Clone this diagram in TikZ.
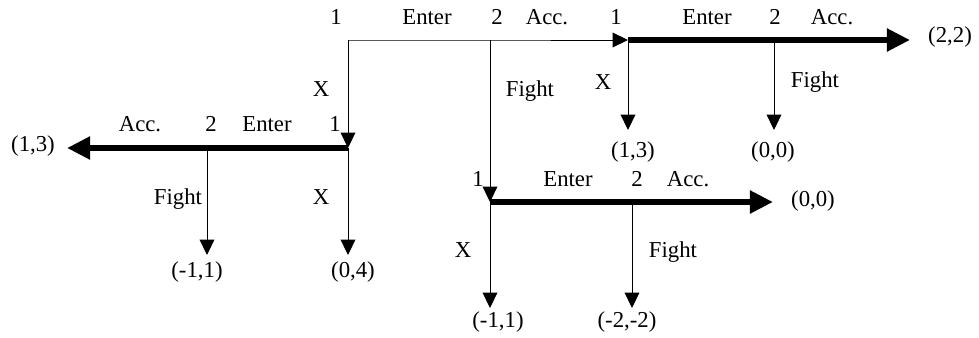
\documentclass[tikz,border=0pt]{standalone}
\usepackage{fontspec}
\setmainfont{Liberation Serif}
\usetikzlibrary{arrows.meta}

\begin{document}
\begin{tikzpicture}[x=0.025cm,y=-0.025cm,%[minimum width=40]
	lbl/.style={font=\fontsize{16.2}{19}\selectfont,inner sep=0pt,text height=1.5ex,text depth=.25ex},
	move/.style={line width=0.7pt,-{Triangle[length=11pt,width=10.5pt]}},
	eqpath/.style={line width=4.4pt,-{Triangle[length=16.5pt,width=15.6pt]}}]
	\useasboundingbox (0,0) rectangle (979,337);
	% decision points
	\coordinate (root) at (348,40);
	\coordinate (top2) at (490,40);
	\coordinate (R1) at (628,40);
	\coordinate (R2) at (774,40);
	\coordinate (L1) at (348,148);
	\coordinate (L2) at (207,148);
	\coordinate (D1) at (490,202);
	\coordinate (D2) at (632,202);
	% arrow ends
	\coordinate (Rend) at (910,40);
	\coordinate (Rx) at (628,130);
	\coordinate (Rf) at (774,130);
	\coordinate (Lend) at (67,148);
	\coordinate (Lf) at (207,255);
	\coordinate (Lx) at (348,255);
	\coordinate (Dend) at (773,202);
	\coordinate (Dx) at (490,308);
	\coordinate (Df) at (632,308);
	% moves
	\draw [move] (root) -- (top2) -- (R1);
	\draw [move] (root) -- (L1);
	\draw [move] (top2) -- (D1);
	\draw [eqpath] (R1) -- (R2) -- (Rend);
	\draw [move] (R1) -- (Rx);
	\draw [move] (R2) -- (Rf);
	\draw [eqpath] (L1) -- (L2) -- (Lend);
	\draw [move] (L2) -- (Lf);
	\draw [move] (L1) -- (Lx);
	\draw [eqpath] (D1) -- (D2) -- (Dend);
	\draw [move] (D1) -- (Dx);
	\draw [move] (D2) -- (Df);
	% players and actions
	\node [lbl] (pRoot) at (336,20) {1};
	\node [lbl] (aEnter) at (427,20) {Enter};
	\node [lbl] (pTop2) at (497,20) {2};
	\node [lbl] (aAcc) at (547,20) {Acc.};
	\node [lbl] (pR1) at (616,20) {1};
	\node [lbl] (aREnter) at (707,20) {Enter};
	\node [lbl] (pR2) at (775,20) {2};
	\node [lbl] (aRAcc) at (832,20) {Acc.};
	\node [lbl] (aX) at (321,92) {X};
	\node [lbl] (aFight) at (530,92) {Fight};
	\node [lbl] (aRX) at (603,85) {X};
	\node [lbl] (aRFight) at (815,83) {Fight};
	\node [lbl] (aLAcc) at (140,127) {Acc.};
	\node [lbl] (pL2) at (211,127) {2};
	\node [lbl] (aLEnter) at (267,127) {Enter};
	\node [lbl] (pL1) at (335,127) {1};
	\node [lbl] (aLFight) at (178,200) {Fight};
	\node [lbl] (aLX) at (321,200) {X};
	\node [lbl] (pD1) at (478,182) {1};
	\node [lbl] (aDEnter) at (568,182) {Enter};
	\node [lbl] (pD2) at (637,182) {2};
	\node [lbl] (aDAcc) at (688,182) {Acc.};
	\node [lbl] (aDX) at (463,253) {X};
	\node [lbl] (aDFight) at (673,253) {Fight};
	% payoffs
	\node [lbl] (uR) at (950,38) {(2,2)};
	\node [lbl] (uRx) at (633,153) {(1,3)};
	\node [lbl] (uRf) at (773,153) {(0,0)};
	\node [lbl] (uL) at (33,147) {(1,3)};
	\node [lbl] (uLf) at (197,273) {(-1,1)};
	\node [lbl] (uLx) at (353,273) {(0,4)};
	\node [lbl] (uD) at (813,202) {(0,0)};
	\node [lbl] (uDx) at (498,323) {(-1,1)};
	\node [lbl] (uDf) at (627,323) {(-2,-2)};
\end{tikzpicture}
\end{document}
